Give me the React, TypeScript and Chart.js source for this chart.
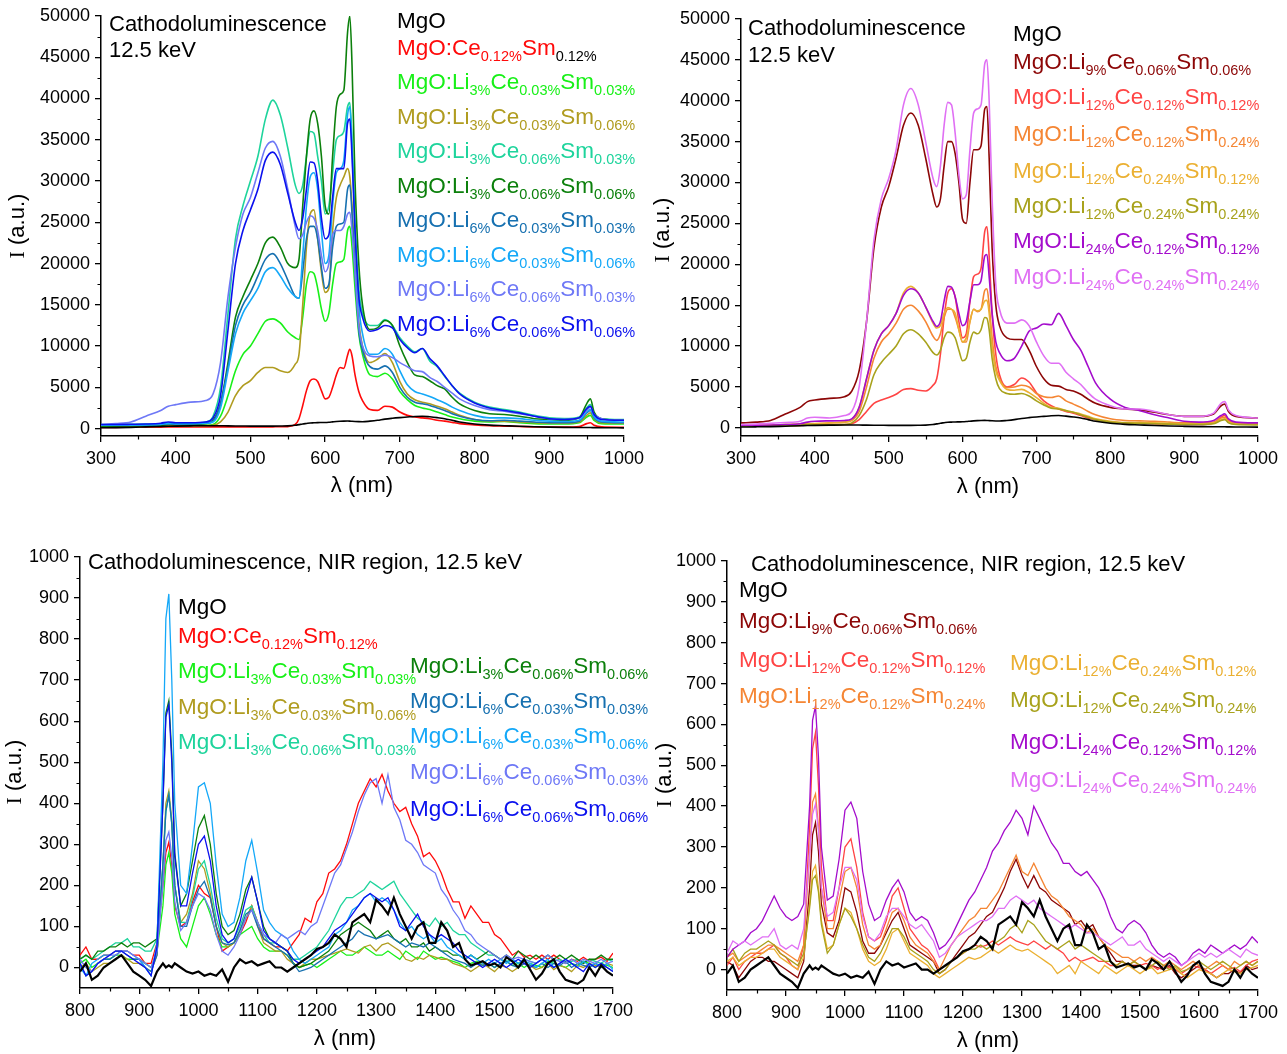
import React, { useEffect, useRef } from 'react';
import { Chart, registerables } from 'chart.js';

Chart.register(...registerables);

const SANS = '"Liberation Sans", Arial, sans-serif';
const SERIF = '"Liberation Serif", "Times New Roman", serif';

// ---------------- Visible region (300-1000 nm) ----------------
const visWavelength = [300,320,340,360,380,390,400,420,440,450,460,470,480,490,500,510,520,530,540,550,560,565,570,575,580,585,590,595,600,605,610,615,620,625,630,633,636,640,645,650,660,670,680,690,700,710,720,730,740,750,760,770,780,800,820,840,860,880,900,920,940,950,955,960,970,1000];

const visMgO = [100,120,150,200,250,280,300,330,350,350,340,330,320,310,300,300,300,300,310,330,400,480,560,620,680,700,720,730,740,770,810,850,880,900,910,900,880,860,840,830,900,1000,1150,1250,1330,1400,1470,1500,1430,1330,1200,1000,800,550,420,350,280,220,180,150,130,130,125,115,100,90];
const visCe12Sm12 = [150,150,160,170,180,200,200,200,200,200,200,200,200,200,200,200,200,210,220,240,500,1200,2800,4600,5800,6000,5700,4600,3600,3800,5000,6500,7400,7300,8900,9600,8800,6500,4500,3400,2300,2200,2700,2600,2000,1600,1400,1300,1200,1000,900,750,600,450,350,300,250,200,180,170,250,600,700,400,200,150];
const visLi3Ce03Sm03 = [300,300,300,320,350,400,380,380,400,500,1500,4000,7000,9000,10000,11500,13000,13300,12800,11700,11000,10800,13500,17500,19000,18800,17000,14500,13000,14000,17500,20000,20200,20500,24000,24500,22000,17000,11500,9000,6500,6300,6700,6000,4500,3500,2800,2500,2300,2000,1700,1400,1200,900,800,850,700,600,550,550,700,1400,1600,1000,600,550];
const visLi3Ce03Sm06 = [200,200,220,250,280,350,330,330,350,400,800,2000,4000,5200,5800,6800,7400,7400,7000,6800,7800,9000,15000,22000,26000,26500,23000,19000,16500,17000,24000,28000,29500,30500,31500,30500,27000,20000,13000,10000,8000,8400,9100,8000,5700,4200,3500,3200,3000,2700,2400,2000,1600,1100,900,900,800,700,650,650,800,1600,1900,1200,700,650];
const visLi3Ce06Sm03 = [500,500,520,540,580,650,620,650,800,1500,5000,14000,23000,27000,30000,33000,37500,39800,38000,34000,29500,28500,29500,33000,36000,35800,33000,30000,26000,27000,31000,35000,35500,36000,39000,39500,35000,25000,17000,14000,12500,12500,13200,12500,11000,10000,9300,9700,8200,7500,6300,5200,4300,3200,2600,2300,2000,1600,1300,1200,1400,2500,2900,1800,1200,1100];
const visLi3Ce06Sm06 = [300,300,320,350,400,500,480,500,600,1000,3000,8000,13500,16000,18000,20000,22500,23200,22000,20000,19500,20500,27000,33000,37500,38500,37000,33000,27000,26000,33000,39000,40500,41000,48000,50000,44000,30000,20000,15000,12000,12200,13100,12500,10000,8000,6500,6300,5800,5200,4800,3800,3000,2200,1800,1700,1500,1200,1100,1000,1300,3000,3600,2000,1200,1000];
const visLi6Ce03Sm03 = [400,400,420,450,500,600,560,580,650,900,3000,7500,12500,15000,16500,18500,20500,21200,20000,18000,16000,15800,19000,23000,24500,24500,23000,19500,17000,17500,22000,24500,24800,25000,29000,29500,26000,19000,12000,9500,7500,7200,7600,6800,5000,3800,3200,3000,2800,2500,2200,1800,1500,1100,950,1000,900,800,700,700,900,1900,2200,1300,800,700];
const visLi6Ce03Sm06 = [400,400,420,450,500,600,560,580,650,800,2500,7000,11500,14000,15500,17000,19000,19500,18500,17000,16000,15800,21000,27000,30500,31000,29000,24000,20000,21000,27000,31000,31500,32500,38000,39000,34000,24000,15000,11500,9000,9000,9700,9000,7000,5300,4500,4200,3900,3500,3100,2600,2200,1600,1300,1300,1200,1000,900,850,1000,2000,2300,1400,900,800];
const visLi6Ce06Sm03 = [500,600,800,1500,2200,2700,2900,3200,3400,4200,8000,16000,22000,26000,28000,31000,34000,34800,33000,29000,24500,23000,23500,25000,25800,25500,24000,21000,19000,20000,23500,24000,24000,24500,26000,26200,24000,19000,12500,10000,8800,8700,8900,8600,8000,7500,7000,6900,6200,5700,5000,4300,3600,2800,2300,2100,1800,1500,1200,1100,1300,2200,2600,1700,1200,1000];
const visLi6Ce06Sm06 = [500,500,520,550,650,800,700,700,800,1300,4000,12000,20000,24000,26500,29000,32500,33500,32000,28500,25000,24000,25500,29000,32300,32200,30000,25500,23000,23500,28000,31500,31500,31500,37000,37500,33000,24000,16000,13500,11800,12000,12500,12200,10800,9800,9200,9700,8500,7600,6400,5200,4200,3100,2500,2200,1900,1500,1200,1100,1300,2400,2700,1700,1100,1000];

const visLi9Ce06Sm06 = [600,700,900,1700,2500,3200,3400,3600,3800,4500,7000,13000,22000,27000,29500,33000,37000,38500,37000,33000,28500,27000,28000,32000,35000,35000,33500,30000,25500,25000,30000,34000,34000,34500,39000,39300,33000,22000,15000,12500,11000,10800,10800,9500,7500,6000,5200,5100,4700,4500,4100,3500,3000,2500,2300,2200,1900,1600,1400,1400,1700,2700,2900,2000,1400,1200];
const visLi12Ce12Sm12 = [300,300,300,300,300,320,330,350,400,500,1000,2000,3000,3400,3700,4100,4700,4800,4600,4500,5200,6000,9000,13500,16500,17000,16000,13000,11000,11500,15500,18500,18800,19500,24000,24600,21000,14000,9000,6500,5000,5300,6100,5600,4300,3300,2700,2300,2000,1800,1500,1200,1000,700,600,550,500,450,400,400,600,1300,1500,900,500,450];
const visLi12Ce12Sm24 = [300,320,350,400,450,500,500,600,700,900,2000,5000,8500,10500,11500,12800,14500,15000,14300,13000,11200,10700,11500,13500,14500,14500,13500,12000,10500,10500,13000,14500,14200,14500,16800,17000,15000,11000,7500,6000,4900,5000,5200,5000,4200,3800,3700,3900,3300,2900,2500,2000,1600,1100,900,850,800,700,600,600,700,1200,1300,800,600,550];
const visLi12Ce24Sm12 = [300,320,350,400,450,550,520,600,700,1000,2500,6000,9500,11500,12500,14000,16500,17300,16500,14800,12800,12200,12500,14000,14700,14500,14000,12000,10500,11000,13000,14500,14300,14500,15500,15600,14000,10000,7000,5800,4700,4600,4700,4300,3700,3000,2500,2400,2100,1900,1700,1400,1100,800,650,650,600,550,500,500,600,1000,1100,700,500,450];
const visLi12Ce24Sm24 = [200,200,220,250,300,400,380,380,400,600,1500,3500,6500,8000,9000,10000,11500,12000,11500,10500,9200,8900,9500,11000,11700,11600,11000,9500,8200,8500,10500,11700,11500,12000,13500,13400,12000,8500,6000,4800,4200,4100,4200,3900,3300,2800,2400,2300,2100,1900,1600,1300,1000,700,600,550,500,450,400,400,500,900,1000,600,400,350];
const visLi24Ce12Sm12 = [300,320,350,400,500,700,800,850,900,1100,2500,6000,9500,11500,12500,14000,16200,17000,16500,14800,13000,12400,13000,15500,17300,17200,16000,14000,12500,13000,15500,17500,17500,18000,21000,21200,18500,14000,10500,9200,8200,8500,10000,11800,12200,12700,12600,14000,12500,10800,9500,7500,5500,3500,2500,2100,1600,1200,800,700,900,1500,1700,1100,700,600];
const visLi24Ce24Sm24 = [400,450,550,650,800,1200,1300,1200,1500,2000,5000,13000,23000,28000,30500,34000,39500,41500,39500,35000,30500,29500,32000,37000,39800,39500,36000,31000,28000,28500,34000,38500,39000,39500,44500,45000,40000,28000,17500,14500,12800,12800,13200,12500,10500,8800,7900,7900,6800,6000,5300,4300,3500,2700,2300,2300,2000,1600,1400,1400,1800,3000,3200,2200,1500,1200];

// ---------------- NIR region (800-1700 nm) ----------------
const nirWavelength = [800,810,820,830,840,850,860,870,880,890,900,910,920,930,940,945,950,955,960,970,980,990,1000,1010,1020,1030,1040,1050,1060,1070,1080,1090,1100,1110,1120,1130,1140,1150,1160,1170,1180,1190,1200,1210,1220,1230,1240,1250,1260,1270,1280,1290,1300,1310,1320,1330,1340,1350,1360,1370,1380,1390,1400,1410,1420,1430,1440,1450,1460,1470,1480,1490,1500,1510,1520,1530,1540,1550,1560,1570,1580,1590,1600,1610,1620,1630,1640,1650,1660,1670,1680,1690,1700];

const nirMgO = [-10,10,-30,-20,0,10,20,30,10,-10,-20,-30,-45,-10,10,0,5,0,10,0,-10,-15,-10,-20,-15,-20,-5,-35,0,20,10,15,5,10,15,0,0,-10,0,10,20,30,45,50,60,80,70,50,110,120,130,110,165,150,130,170,130,100,70,100,110,60,60,110,90,50,60,20,5,10,15,5,10,0,25,15,0,20,-5,-30,-15,10,20,-10,-30,-35,-40,-30,0,-20,5,-10,-20];
const nirCe12Sm12 = [30,50,20,20,30,30,40,40,40,30,30,10,10,60,200,280,305,250,150,100,110,160,200,180,170,100,40,50,60,80,110,150,110,70,60,50,50,40,60,80,120,110,160,180,230,240,260,300,350,400,430,460,440,470,430,400,380,390,350,320,270,280,260,230,190,160,160,120,150,130,110,110,80,70,50,30,40,25,30,20,30,20,30,20,10,20,15,25,15,20,25,15,35];
const nirLi3Ce03Sm03 = [10,20,0,10,20,20,30,30,20,20,20,10,0,40,150,250,280,230,130,70,50,100,150,170,130,80,50,50,60,80,90,100,70,50,40,40,40,30,10,0,5,10,0,10,20,30,40,30,30,40,50,40,30,30,40,30,20,40,30,20,40,30,20,25,20,15,10,0,10,15,5,10,0,10,15,5,10,0,10,5,0,15,10,5,0,10,5,15,10,0,10,5,0];
const nirLi3Ce03Sm06 = [0,10,-10,0,10,10,20,30,20,10,10,0,-10,30,250,400,430,360,200,110,130,180,260,240,180,100,60,50,60,90,120,150,100,60,50,40,40,20,10,0,10,20,20,25,30,35,40,45,40,35,50,55,40,55,60,50,40,20,15,25,20,30,25,20,20,10,5,0,-10,0,10,0,-10,5,0,-10,0,10,5,-5,0,10,-5,5,0,-10,5,0,10,5,0,10,5];
const nirLi3Ce06Sm03 = [20,30,20,30,40,50,60,60,70,50,50,40,40,70,250,380,420,350,200,110,110,170,240,260,200,120,70,60,70,100,140,150,110,80,60,60,50,40,20,20,30,40,50,70,90,120,150,170,170,180,190,210,200,190,200,210,180,160,140,120,110,100,120,100,110,90,80,80,60,50,40,30,30,20,15,20,10,20,15,10,20,10,15,20,10,15,20,10,20,15,10,20,15];
const nirLi3Ce06Sm06 = [20,30,20,40,40,50,50,60,50,60,60,50,60,70,400,620,650,520,280,150,180,260,340,370,300,180,100,80,90,130,190,220,160,100,70,60,50,40,10,0,5,10,20,30,40,60,80,90,100,110,100,90,70,80,90,70,60,70,50,50,60,40,50,40,40,30,30,20,30,20,30,40,30,20,30,20,40,30,20,30,20,30,20,30,20,30,20,10,20,20,30,20,20];
const nirLi6Ce03Sm03 = [10,-20,-10,10,20,20,30,40,30,20,20,0,-10,30,250,380,420,350,200,100,100,150,190,210,170,100,60,55,60,90,130,140,100,70,60,50,40,30,10,-10,-5,0,10,20,30,40,50,60,70,90,80,75,70,75,80,70,60,50,60,55,50,60,50,40,30,20,15,10,0,10,5,10,0,10,15,5,0,10,5,0,10,0,10,5,15,0,10,5,0,10,5,0,-10];
const nirLi6Ce03Sm06 = [0,-20,10,20,30,30,40,40,40,30,20,0,-20,60,500,850,910,700,400,200,180,300,440,450,400,250,130,100,110,170,260,310,230,140,110,90,80,70,40,20,10,20,30,40,50,80,90,110,140,150,170,180,160,170,160,140,110,90,100,80,70,80,60,70,50,40,30,20,30,20,10,20,10,20,10,20,10,15,10,0,10,20,0,10,20,10,0,15,5,10,0,10,-5];
const nirLi6Ce06Sm03 = [20,0,-10,10,20,30,30,40,40,30,20,10,0,40,200,310,330,270,160,90,110,150,180,170,140,80,40,30,50,80,120,140,110,80,70,60,80,70,80,90,80,100,110,150,190,230,250,290,330,380,420,450,460,400,470,390,360,310,300,280,250,240,230,190,170,140,120,90,80,60,50,40,30,20,30,20,25,20,15,10,20,30,20,15,10,20,10,20,15,10,20,10,15];
const nirLi6Ce06Sm06 = [10,-20,-10,10,20,30,40,40,30,20,10,0,-20,50,400,610,640,500,270,150,150,230,300,320,260,150,80,60,70,110,170,220,160,90,70,60,50,40,20,10,20,30,40,50,70,90,100,110,130,150,170,180,170,160,170,140,100,90,110,130,100,80,70,80,70,60,40,30,20,10,0,10,20,10,0,10,20,10,0,10,20,10,0,10,20,10,0,-10,10,0,10,0,-10];

const nirLi9Ce06Sm06 = [20,10,-20,0,20,30,30,20,20,10,0,-10,-20,20,200,330,360,290,160,90,80,120,200,190,140,70,40,40,60,90,120,140,100,60,50,40,30,20,-10,0,20,40,60,80,90,110,130,140,170,200,240,270,230,200,230,200,190,170,160,150,140,110,120,100,110,80,60,40,20,20,10,10,10,0,10,5,0,10,-10,-20,-10,0,10,0,-10,-20,-10,-10,0,-10,10,0,5];
const nirLi12Ce12Sm12 = [10,30,0,20,30,40,40,50,60,40,30,10,0,60,350,540,580,450,250,120,120,200,300,320,250,140,80,70,80,120,180,200,150,100,80,60,50,30,0,10,20,30,40,50,60,55,60,70,60,70,80,70,65,60,70,60,50,60,50,40,20,30,20,25,30,20,20,10,10,20,10,20,10,15,10,0,10,5,0,-10,0,10,5,0,-10,0,10,0,5,-5,10,20,25];
const nirLi12Ce12Sm24 = [30,40,20,30,40,40,50,60,60,50,40,30,20,60,280,410,430,350,200,100,100,170,240,250,200,110,60,50,60,100,140,150,120,80,60,50,40,20,0,30,60,80,100,120,130,150,150,170,190,220,250,280,240,230,260,230,200,180,170,150,130,120,110,90,100,80,60,50,40,30,30,20,30,20,30,20,10,20,10,0,10,20,10,0,10,20,10,0,20,10,20,10,20];
const nirLi12Ce24Sm12 = [20,30,10,20,30,30,40,50,50,30,20,10,0,30,160,240,255,200,120,50,60,110,150,140,100,50,20,10,20,50,90,100,70,40,30,20,10,-10,-20,-10,0,10,20,30,25,30,40,50,40,50,60,50,45,50,40,30,20,10,-10,0,10,-10,20,10,0,-10,10,0,-10,0,10,0,-10,0,5,-10,-5,0,5,-10,-20,-10,0,-5,-10,-20,-10,0,-5,-10,0,5,10];
const nirLi12Ce24Sm24 = [30,50,20,40,50,50,60,70,60,40,30,20,10,40,150,220,230,190,110,40,60,110,150,130,100,60,30,20,40,70,100,100,80,50,40,30,20,0,-10,0,20,30,40,50,50,60,50,60,70,80,100,110,90,120,110,90,70,60,50,60,70,50,60,50,40,30,20,20,10,20,10,20,10,0,10,20,10,0,10,-5,0,10,20,10,0,10,20,10,0,10,20,10,20];
const nirLi24Ce12Sm12 = [30,50,60,70,90,100,120,150,180,150,130,120,130,160,400,610,645,520,300,170,180,270,390,410,370,240,160,120,130,170,200,220,190,140,120,130,120,90,50,60,80,110,140,170,190,220,250,290,310,340,360,390,370,330,400,370,340,310,290,260,260,240,230,240,220,200,170,130,100,90,110,120,110,90,60,40,30,40,30,10,20,40,50,40,60,50,40,50,60,50,60,80,65];
const nirLi24Ce24Sm24 = [40,70,60,70,60,70,80,80,100,60,50,60,50,100,280,380,405,340,200,130,140,200,250,250,220,130,80,70,90,130,150,150,130,110,100,110,90,70,30,40,60,80,90,100,110,120,120,130,150,150,170,180,170,160,170,150,140,130,120,110,100,110,100,90,90,80,70,60,70,80,60,60,70,50,40,30,20,30,20,10,20,30,40,30,40,30,40,50,40,30,50,40,35];

// ---------------- Axis ticks ----------------
const visTicksX = [300, 400, 500, 600, 700, 800, 900, 1000];
const visTicksY = [0, 5000, 10000, 15000, 20000, 25000, 30000, 35000, 40000, 45000, 50000];
const nirTicksX = [800, 900, 1000, 1100, 1200, 1300, 1400, 1500, 1600, 1700];
const nirTicksY = [0, 100, 200, 300, 400, 500, 600, 700, 800, 900, 1000];

// ---------------- Panel definitions ----------------
type Series = { label: string; color: string; data: number[]; width?: number; top?: boolean };
type Legend = { x: number; y: number };
type Panel = {
  area: { left: number; top: number; right: number; bottom: number };
  xs: number[];
  series: Series[];
  legend: Legend[];
  ticksX: number[];
  ticksY: number[];
  yMin: number;
  smooth: boolean;
  notes: { text: string; x: number; y: number }[];
  xTitle: { x: number; y: number };
  yTitle: { x: number; y: number };
};

const C = {
  black: '#000000', red: '#ff0a0a', green: '#18f018', olive: '#b09c20', teal: '#1ed49c',
  dgreen: '#0c800c', steel: '#1670b0', lblue: '#14a8f8', peri: '#6e78f6', blue: '#0a10ee',
  dred: '#8c0606', red2: '#ff4444', orange: '#f58634', gold: '#ebb032', olive2: '#a8a21c',
  purple: '#a40ccc', pink: '#e070f4',
};

const panels: Panel[] = [
  {
    area: { left: 101, top: 16, right: 624, bottom: 436 },
    xs: visWavelength,
    series: [
      { label: 'MgO', color: C.black, data: visMgO, top: true },
      { label: 'MgO:Ce_{0.12%}Sm_k{0.12%}', color: C.red, data: visCe12Sm12 },
      { label: 'MgO:Li_{3%}Ce_{0.03%}Sm_{0.03%}', color: C.green, data: visLi3Ce03Sm03 },
      { label: 'MgO:Li_{3%}Ce_{0.03%}Sm_{0.06%}', color: C.olive, data: visLi3Ce03Sm06 },
      { label: 'MgO:Li_{3%}Ce_{0.06%}Sm_{0.03%}', color: C.teal, data: visLi3Ce06Sm03 },
      { label: 'MgO:Li_{3%}Ce_{0.06%}Sm_{0.06%}', color: C.dgreen, data: visLi3Ce06Sm06 },
      { label: 'MgO:Li_{6%}Ce_{0.03%}Sm_{0.03%}', color: C.steel, data: visLi6Ce03Sm03 },
      { label: 'MgO:Li_{6%}Ce_{0.03%}Sm_{0.06%}', color: C.lblue, data: visLi6Ce03Sm06 },
      { label: 'MgO:Li_{6%}Ce_{0.06%}Sm_{0.03%}', color: C.peri, data: visLi6Ce06Sm03 },
      { label: 'MgO:Li_{6%}Ce_{0.06%}Sm_{0.06%}', color: C.blue, data: visLi6Ce06Sm06 },
    ],
    legend: [28, 55, 89, 124, 158, 193, 227, 262, 296, 331].map((y) => ({ x: 397, y })),
    ticksX: visTicksX, ticksY: visTicksY, yMin: -900, smooth: true,
    notes: [{ text: 'Cathodoluminescence', x: 109, y: 31 }, { text: '12.5 keV', x: 109, y: 57 }],
    xTitle: { x: 362, y: 486 }, yTitle: { x: 18, y: 226 },
  },
  {
    area: { left: 741, top: 19, right: 1258, bottom: 436 },
    xs: visWavelength,
    series: [
      { label: 'MgO', color: C.black, data: visMgO, top: true },
      { label: 'MgO:Li_{9%}Ce_{0.06%}Sm_{0.06%}', color: C.dred, data: visLi9Ce06Sm06 },
      { label: 'MgO:Li_{12%}Ce_{0.12%}Sm_{0.12%}', color: C.red2, data: visLi12Ce12Sm12 },
      { label: 'MgO:Li_{12%}Ce_{0.12%}Sm_{0.24%}', color: C.orange, data: visLi12Ce12Sm24 },
      { label: 'MgO:Li_{12%}Ce_{0.24%}Sm_{0.12%}', color: C.gold, data: visLi12Ce24Sm12 },
      { label: 'MgO:Li_{12%}Ce_{0.24%}Sm_{0.24%}', color: C.olive2, data: visLi12Ce24Sm24 },
      { label: 'MgO:Li_{24%}Ce_{0.12%}Sm_{0.12%}', color: C.purple, data: visLi24Ce12Sm12 },
      { label: 'MgO:Li_{24%}Ce_{0.24%}Sm_{0.24%}', color: C.pink, data: visLi24Ce24Sm24 },
    ],
    legend: [41, 69, 104, 141, 178, 213, 248, 284].map((y) => ({ x: 1013, y })),
    ticksX: visTicksX, ticksY: visTicksY, yMin: -1000, smooth: true,
    notes: [{ text: 'Cathodoluminescence', x: 748, y: 35 }, { text: '12.5 keV', x: 748, y: 62 }],
    xTitle: { x: 988, y: 487 }, yTitle: { x: 663, y: 230 },
  },
  {
    area: { left: 80, top: 557, right: 613, bottom: 988 },
    xs: nirWavelength,
    series: [
      { label: 'MgO', color: C.black, data: nirMgO, width: 2.2, top: true },
      { label: 'MgO:Ce_{0.12%}Sm_{0.12%}', color: C.red, data: nirCe12Sm12 },
      { label: 'MgO:Li_{3%}Ce_{0.03%}Sm_{0.03%}', color: C.green, data: nirLi3Ce03Sm03 },
      { label: 'MgO:Li_{3%}Ce_{0.03%}Sm_{0.06%}', color: C.olive, data: nirLi3Ce03Sm06 },
      { label: 'MgO:Li_{3%}Ce_{0.06%}Sm_{0.03%}', color: C.teal, data: nirLi3Ce06Sm03 },
      { label: 'MgO:Li_{3%}Ce_{0.06%}Sm_{0.06%}', color: C.dgreen, data: nirLi3Ce06Sm06 },
      { label: 'MgO:Li_{6%}Ce_{0.03%}Sm_{0.03%}', color: C.steel, data: nirLi6Ce03Sm03 },
      { label: 'MgO:Li_{6%}Ce_{0.03%}Sm_{0.06%}', color: C.lblue, data: nirLi6Ce03Sm06 },
      { label: 'MgO:Li_{6%}Ce_{0.06%}Sm_{0.03%}', color: C.peri, data: nirLi6Ce06Sm03 },
      { label: 'MgO:Li_{6%}Ce_{0.06%}Sm_{0.06%}', color: C.blue, data: nirLi6Ce06Sm06 },
    ],
    legend: [
      { x: 178, y: 614 }, { x: 178, y: 643 }, { x: 178, y: 678 }, { x: 178, y: 714 }, { x: 178, y: 749 },
      { x: 410, y: 673 }, { x: 410, y: 708 }, { x: 410, y: 743 }, { x: 410, y: 779 }, { x: 410, y: 816 },
    ],
    ticksX: nirTicksX, ticksY: nirTicksY, yMin: -50, smooth: false,
    notes: [{ text: 'Cathodoluminescence, NIR region, 12.5 keV', x: 88, y: 569 }],
    xTitle: { x: 345, y: 1039 }, yTitle: { x: 15, y: 772 },
  },
  {
    area: { left: 727, top: 561, right: 1258, bottom: 990 },
    xs: nirWavelength,
    series: [
      { label: 'MgO', color: C.black, data: nirMgO, width: 2.2, top: true },
      { label: 'MgO:Li_{9%}Ce_{0.06%}Sm_{0.06%}', color: C.dred, data: nirLi9Ce06Sm06 },
      { label: 'MgO:Li_{12%}Ce_{0.12%}Sm_{0.12%}', color: C.red2, data: nirLi12Ce12Sm12 },
      { label: 'MgO:Li_{12%}Ce_{0.12%}Sm_{0.24%}', color: C.orange, data: nirLi12Ce12Sm24 },
      { label: 'MgO:Li_{12%}Ce_{0.24%}Sm_{0.12%}', color: C.gold, data: nirLi12Ce24Sm12 },
      { label: 'MgO:Li_{12%}Ce_{0.24%}Sm_{0.24%}', color: C.olive2, data: nirLi12Ce24Sm24 },
      { label: 'MgO:Li_{24%}Ce_{0.12%}Sm_{0.12%}', color: C.purple, data: nirLi24Ce12Sm12 },
      { label: 'MgO:Li_{24%}Ce_{0.24%}Sm_{0.24%}', color: C.pink, data: nirLi24Ce24Sm24 },
    ],
    legend: [
      { x: 739, y: 597 }, { x: 739, y: 628 }, { x: 739, y: 667 }, { x: 739, y: 703 },
      { x: 1010, y: 670 }, { x: 1010, y: 707 }, { x: 1010, y: 749 }, { x: 1010, y: 787 },
    ],
    ticksX: nirTicksX, ticksY: nirTicksY, yMin: -50, smooth: false,
    notes: [{ text: 'Cathodoluminescence, NIR region, 12.5 keV', x: 751, y: 571 }],
    xTitle: { x: 988, y: 1041 }, yTitle: { x: 665, y: 775 },
  },
];

const W = 1287;
const H = 1054;
const MAIN_PX = 22.5;
const SUB_PX = 14.5;

function drawRich(ctx: CanvasRenderingContext2D, label: string, x: number, y: number, color: string) {
  const parts = label.split(/(_k?\{[^}]*\})/).filter((p) => p.length > 0);
  let cx = x;
  for (const p of parts) {
    if (p.startsWith('_')) {
      const black = p.startsWith('_k');
      const t = p.slice(black ? 3 : 2, -1);
      ctx.font = `${SUB_PX}px ${SANS}`;
      ctx.fillStyle = black ? '#000' : color;
      ctx.fillText(t, cx, y + 6);
      cx += ctx.measureText(t).width;
    } else {
      ctx.font = `${MAIN_PX}px ${SANS}`;
      ctx.fillStyle = color;
      ctx.fillText(p, cx, y);
      cx += ctx.measureText(p).width;
    }
  }
}

function makeChart(canvas: HTMLCanvasElement, p: Panel): Chart {
  const decor = {
    id: 'decor',
    afterDraw(chart: any) {
      const ctx = chart.ctx as CanvasRenderingContext2D;
      const sx = chart.scales.x;
      const sy = chart.scales.y;
      const ca = chart.chartArea;
      ctx.save();
      // minor ticks
      ctx.strokeStyle = '#000';
      ctx.lineWidth = 1.2;
      ctx.beginPath();
      for (let i = 0; i < p.ticksX.length - 1; i++) {
        const v = (p.ticksX[i] + p.ticksX[i + 1]) / 2;
        const px = Math.round(sx.getPixelForValue(v)) + 0.5;
        ctx.moveTo(px, ca.bottom);
        ctx.lineTo(px, ca.bottom + 3.5);
      }
      for (let i = 0; i < p.ticksY.length - 1; i++) {
        const v = (p.ticksY[i] + p.ticksY[i + 1]) / 2;
        const py = Math.round(sy.getPixelForValue(v)) + 0.5;
        ctx.moveTo(ca.left, py);
        ctx.lineTo(ca.left - 3.5, py);
      }
      ctx.stroke();
      // annotations
      ctx.textAlign = 'left';
      ctx.textBaseline = 'alphabetic';
      ctx.fillStyle = '#000';
      ctx.font = `22px ${SANS}`;
      for (const n of p.notes) ctx.fillText(n.text, n.x, n.y);
      // legend
      p.series.forEach((s, i) => {
        const pos = p.legend[i];
        if (pos) drawRich(ctx, s.label, pos.x, pos.y, s.color);
      });
      // x title
      ctx.font = `22px ${SANS}`;
      ctx.fillStyle = '#000';
      ctx.textAlign = 'center';
      ctx.textBaseline = 'middle';
      ctx.fillText('λ (nm)', p.xTitle.x, p.xTitle.y);
      // y title (rotated)
      ctx.translate(p.yTitle.x, p.yTitle.y);
      ctx.rotate(-Math.PI / 2);
      ctx.textAlign = 'left';
      ctx.font = `22px ${SERIF}`;
      const w1 = ctx.measureText('I').width;
      ctx.font = `22px ${SANS}`;
      const w2 = ctx.measureText(' (a.u.)').width;
      const start = -(w1 + w2) / 2;
      ctx.font = `22px ${SERIF}`;
      ctx.fillText('I', start, 0);
      ctx.font = `22px ${SANS}`;
      ctx.fillText(' (a.u.)', start + w1, 0);
      ctx.restore();
    },
  };

  const n = p.series.length;
  return new Chart(canvas, {
    type: 'line',
    data: {
      datasets: p.series.map((s, i) => ({
        label: s.label,
        data: p.xs.map((x, j) => ({ x, y: s.data[j] })),
        borderColor: s.color,
        backgroundColor: s.color,
        borderWidth: s.width ?? (p.smooth ? 1.6 : 1.3),
        pointRadius: 0,
        fill: false,
        tension: p.smooth ? 0.4 : 0,
        cubicInterpolationMode: p.smooth ? 'monotone' : 'default',
        order: s.top ? -100 : n - i,
      })),
    },
    options: {
      responsive: false,
      maintainAspectRatio: false,
      animation: false,
      devicePixelRatio: 1,
      events: [],
      layout: {
        padding: { left: 0, top: p.area.top, right: W - p.area.right, bottom: 0 },
      },
      plugins: {
        legend: { display: false },
        tooltip: { enabled: false },
        title: { display: false },
      },
      scales: {
        x: {
          type: 'linear',
          min: p.ticksX[0],
          max: p.ticksX[p.ticksX.length - 1],
          afterBuildTicks: (scale: any) => {
            scale.ticks = p.ticksX.map((v) => ({ value: v }));
          },
          afterFit: (scale: any) => {
            scale.height = H - p.area.bottom;
          },
          ticks: {
            color: '#000',
            font: { family: SANS, size: 18 },
            padding: 6,
            maxRotation: 0,
            autoSkip: false,
            callback: (v: any) => String(v),
          },
          grid: { drawOnChartArea: false, drawTicks: true, tickLength: 6, color: '#000', lineWidth: 1.3 },
          border: { color: '#000', width: 1.5 },
        },
        y: {
          type: 'linear',
          min: p.yMin,
          max: p.ticksY[p.ticksY.length - 1],
          afterBuildTicks: (scale: any) => {
            scale.ticks = p.ticksY.map((v) => ({ value: v }));
          },
          afterFit: (scale: any) => {
            scale.width = p.area.left;
          },
          ticks: {
            color: '#000',
            font: { family: SANS, size: 18 },
            padding: 5,
            autoSkip: false,
            callback: (v: any) => String(v),
          },
          grid: { drawOnChartArea: false, drawTicks: true, tickLength: 6, color: '#000', lineWidth: 1.3 },
          border: { color: '#000', width: 1.5 },
        },
      },
    } as any,
    plugins: [decor],
  });
}

function PanelCanvas({ panel }: { panel: Panel }) {
  const ref = useRef<HTMLCanvasElement | null>(null);
  useEffect(() => {
    if (!ref.current) return;
    const chart = makeChart(ref.current, panel);
    return () => chart.destroy();
  }, [panel]);
  return (
    <canvas
      ref={ref}
      width={W}
      height={H}
      style={{ position: 'absolute', left: 0, top: 0, width: W, height: H }}
    />
  );
}

export default function App() {
  return (
    <div style={{ position: 'absolute', left: 0, top: 0, width: W, height: H, background: '#fff', overflow: 'hidden' }}>
      {panels.map((p, i) => (
        <PanelCanvas key={i} panel={p} />
      ))}
    </div>
  );
}
